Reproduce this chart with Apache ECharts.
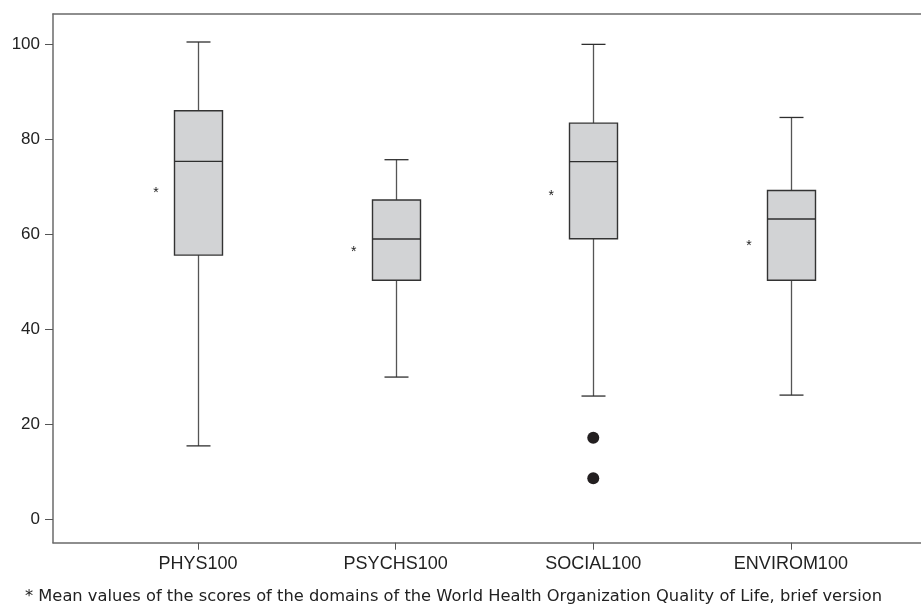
<!DOCTYPE html>
<html>
<head>
<meta charset="utf-8">
<script src="https://cdn.jsdelivr.net/npm/echarts@6/dist/echarts.min.js"></script>
<style>
html,body{margin:0;padding:0;background:#fff;}
#chart{width:921px;height:611px;}
</style>
</head>
<body>
<div id="chart"></div>
<script>
// ---- data ----
const categories = ['PHYS100', 'PSYCHS100', 'SOCIAL100', 'ENVIROM100'];
const whiskerLow  = [15.4, 29.9, 25.9, 26.1];
const quartile1   = [55.6, 50.3, 59.05, 50.3];
const medians     = [75.35, 59.0, 75.3, 63.2];
const quartile3   = [86.0, 67.2, 83.4, 69.2];
const whiskerHigh = [100.5, 75.7, 100.0, 84.6];
const means       = [69.3, 56.9, 68.6, 58.1];
const outliers    = [['SOCIAL100', 17.1], ['SOCIAL100', 8.6]];
const yTicks      = [0, 20, 40, 60, 80, 100];
const footnote = '* Mean values of the scores of the domains of the World Health Organization Quality of Life, brief version';

const boxData = categories.map((c, i) => [i, whiskerLow[i], quartile1[i], medians[i], quartile3[i], whiskerHigh[i]]);
const meanData = categories.map((c, i) => [i, means[i]]);

const Y_MIN = -5, Y_MAX = 106.4;
const axisGray = '#6a6a6a';
const textCol = '#222';

const chart = echarts.init(document.getElementById('chart'));
chart.setOption({
  animation: false,
  backgroundColor: '#fff',
  grid: [
    {left: 53, right: 0, top: 14, bottom: 68.3, outerBoundsMode: 'none', containLabel: false},
    {left: 99.2, right: 31.3, top: 14, bottom: 68.3, outerBoundsMode: 'none', containLabel: false}
  ],
  xAxis: [
    {gridIndex: 0, type: 'value', min: 0, max: 1, position: 'bottom',
     axisLine: {show: true, onZero: false, lineStyle: {color: axisGray, width: 1.5}},
     axisTick: {show: false}, axisLabel: {show: false}, splitLine: {show: false}},
    {gridIndex: 0, type: 'value', min: 0, max: 1, position: 'top',
     axisLine: {show: true, onZero: false, lineStyle: {color: axisGray, width: 1.5}},
     axisTick: {show: false}, axisLabel: {show: false}, splitLine: {show: false}},
    {gridIndex: 1, type: 'category', data: categories, boundaryGap: true, position: 'bottom',
     axisLine: {show: false, onZero: false},
     axisTick: {show: true, alignWithLabel: true, length: 7, lineStyle: {color: '#555', width: 1}},
     axisLabel: {show: true, margin: 12, fontFamily: 'Liberation Sans, Arial, sans-serif', fontSize: 18, color: textCol},
     splitLine: {show: false}}
  ],
  yAxis: [
    {gridIndex: 0, type: 'value', min: Y_MIN, max: Y_MAX,
     axisLine: {show: true, onZero: false, lineStyle: {color: axisGray, width: 1.5}},
     axisTick: {show: true, length: 8, customValues: yTicks, lineStyle: {color: '#555', width: 1}},
     axisLabel: {show: true, margin: 13, customValues: yTicks,
                 fontFamily: 'Liberation Sans, Arial, sans-serif', fontSize: 17, color: textCol},
     splitLine: {show: false}},
    {gridIndex: 1, type: 'value', min: Y_MIN, max: Y_MAX, show: false,
     axisLine: {show: false, onZero: false}, axisTick: {show: false}, axisLabel: {show: false}, splitLine: {show: false}}
  ],
  series: [
    {
      type: 'custom', xAxisIndex: 2, yAxisIndex: 1,
      data: boxData,
      encode: {x: 0, y: [1, 2, 3, 4, 5]},
      renderItem: function (params, api) {
        const idx = api.value(0);
        const lo = api.coord([idx, api.value(1)]);
        const q1 = api.coord([idx, api.value(2)]);
        const md = api.coord([idx, api.value(3)]);
        const q3 = api.coord([idx, api.value(4)]);
        const hi = api.coord([idx, api.value(5)]);
        const cx = Math.round(lo[0]) + 0.5;
        const bw = 48, cw = 24;
        const wStyle = {stroke: '#555', lineWidth: 1.3};
        const dStyle = {stroke: '#2e2e2e', lineWidth: 1.3};
        return {
          type: 'group',
          children: [
            {type: 'line', shape: {x1: cx, y1: lo[1], x2: cx, y2: q1[1]}, style: wStyle},
            {type: 'line', shape: {x1: cx, y1: q3[1], x2: cx, y2: hi[1]}, style: wStyle},
            {type: 'line', shape: {x1: cx - cw / 2, y1: lo[1], x2: cx + cw / 2, y2: lo[1]}, style: dStyle},
            {type: 'line', shape: {x1: cx - cw / 2, y1: hi[1], x2: cx + cw / 2, y2: hi[1]}, style: dStyle},
            {type: 'rect', shape: {x: cx - bw / 2, y: q3[1], width: bw, height: q1[1] - q3[1]},
             style: {fill: '#d2d3d5', stroke: '#333', lineWidth: 1.4}},
            {type: 'line', shape: {x1: cx - bw / 2, y1: md[1], x2: cx + bw / 2, y2: md[1]}, style: {stroke: '#2e2e2e', lineWidth: 1.4}}
          ]
        };
      },
      z: 2
    },
    {
      type: 'scatter', xAxisIndex: 2, yAxisIndex: 1,
      data: outliers, symbol: 'circle', symbolSize: 12,
      itemStyle: {color: '#231f20', opacity: 1}, z: 3
    },
    {
      type: 'custom', xAxisIndex: 2, yAxisIndex: 1,
      data: meanData,
      encode: {x: 0, y: 1},
      renderItem: function (params, api) {
        const p = api.coord([api.value(0), api.value(1)]);
        return {
          type: 'text', x: p[0] - 42, y: p[1] + 3,
          style: {text: '*', fontSize: 14, fontFamily: 'Liberation Sans, Arial, sans-serif', fill: '#222', align: 'center', verticalAlign: 'middle'}
        };
      },
      z: 3
    }
  ],
  graphic: [
    {type: 'text', left: 25, top: 589,
     style: {text: footnote, fontFamily: 'DejaVu Sans, Verdana, sans-serif', fontSize: 16.3, fill: textCol}}
  ]
});
</script>
</body>
</html>
